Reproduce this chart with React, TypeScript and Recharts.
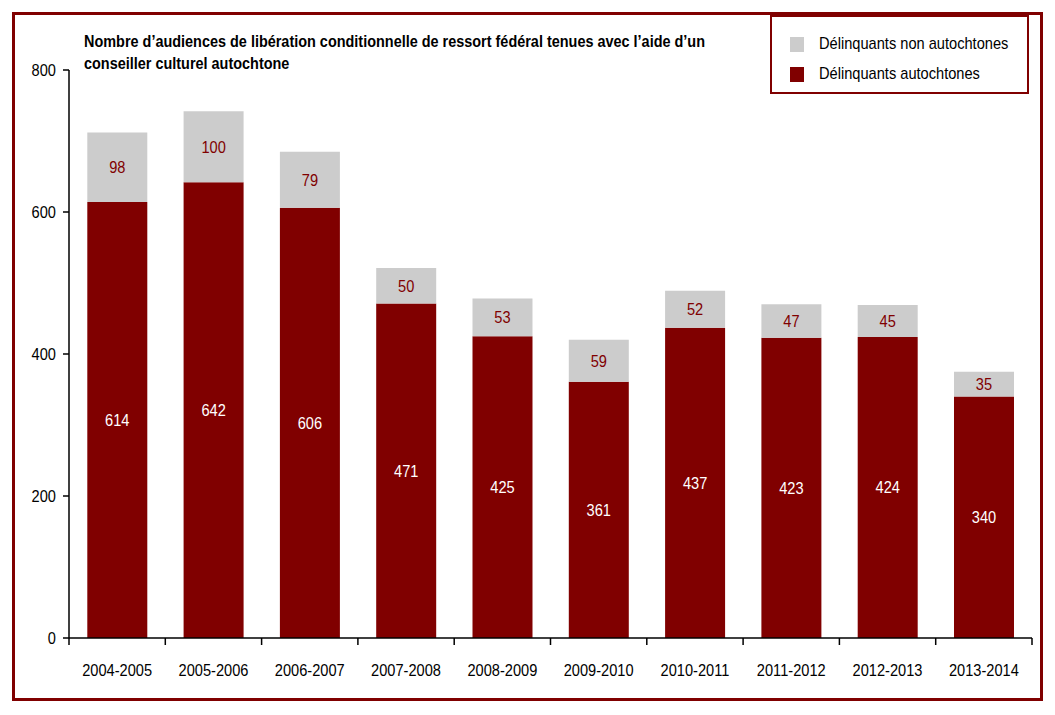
import React from "react";
import { BarChart, Bar, XAxis, YAxis, LabelList } from "recharts";

const years = [
  "2004-2005", "2005-2006", "2006-2007", "2007-2008", "2008-2009",
  "2009-2010", "2010-2011", "2011-2012", "2012-2013", "2013-2014",
];
const autochtones = [614, 642, 606, 471, 425, 361, 437, 423, 424, 340];
const nonAutochtones = [98, 100, 79, 50, 53, 59, 52, 47, 45, 35];
const yTicks = [0, 200, 400, 600, 800];

const data = years.map((year, i) => ({
  year,
  auto: autochtones[i],
  nonAuto: nonAutochtones[i],
}));

// no Arial Narrow here, so squeeze Liberation Sans horizontally
const FONT = "'Liberation Sans Narrow', 'Arial Narrow', 'Liberation Sans', Arial, sans-serif";
const SQUEEZE = 0.86;
const FS = 17;
const RED = "#800000";
const GREY = "#cccccc";

const W = 1055;
const H = 715;
const margin = { top: 70, right: 23, left: 19, bottom: 37 };
const Y_AXIS_W = 50;
const X_AXIS_H = 40;
const plotW = W - margin.left - margin.right - Y_AXIS_W;
const band = plotW / years.length;

function NarrowText({ x, y, anchor = "middle", fill = "#000", children }: any) {
  return (
    <text
      transform={`translate(${x},${y}) scale(${SQUEEZE},1)`}
      textAnchor={anchor}
      dominantBaseline="central"
      fontFamily={FONT}
      fontSize={FS}
      fill={fill}
    >
      {children}
    </text>
  );
}

function XTick(props: any) {
  const { x, y, payload, index } = props;
  const half = band / 2;
  return (
    <g>
      <line x1={x - half} y1={y} x2={x - half} y2={y + 7} stroke="#000" strokeWidth={1.5} />
      {index === years.length - 1 && (
        <line x1={x + half} y1={y} x2={x + half} y2={y + 7} stroke="#000" strokeWidth={1.5} />
      )}
      <NarrowText x={x} y={y + 32}>{payload.value}</NarrowText>
    </g>
  );
}

function YTick(props: any) {
  const { x, y, payload } = props;
  return <NarrowText x={x} y={y} anchor="end">{payload.value}</NarrowText>;
}

const centerLabel = (fill: string) => (props: any) => {
  const { x, y, width, height, value } = props;
  return (
    <NarrowText x={x + width / 2} y={y + height / 2} fill={fill}>
      {value}
    </NarrowText>
  );
};

function LegendBox() {
  const items = [
    { label: "Délinquants non autochtones", color: GREY },
    { label: "Délinquants autochtones", color: RED },
  ];
  return (
    <div
      style={{
        position: "absolute",
        left: 770,
        top: 15,
        border: `2px solid ${RED}`,
        width: 259,
        height: 79,
        boxSizing: "border-box",
        padding: "12px 0 0 18px",
        background: "#fff",
        zIndex: 2,
      }}
    >
      {items.map((it) => (
        <div key={it.label} style={{ display: "flex", alignItems: "center", height: 30, whiteSpace: "nowrap" }}>
          <span style={{ width: 14, height: 15, background: it.color, marginRight: 15, display: "inline-block", flexShrink: 0 }} />
          <span
            style={{
              fontFamily: FONT,
              fontSize: FS,
              display: "inline-block",
              transform: `scaleX(${SQUEEZE})`,
              transformOrigin: "left center",
            }}
          >
            {it.label}
          </span>
        </div>
      ))}
    </div>
  );
}

export default function App() {
  return (
    <div style={{ position: "absolute", left: 0, top: 0, width: W, height: H, background: "#fff" }}>
      <div
        style={{
          position: "absolute",
          left: 12,
          top: 12,
          width: 1031,
          height: 689,
          border: `3px solid ${RED}`,
          boxSizing: "border-box",
        }}
      />
      <div
        style={{
          position: "absolute",
          left: 84,
          top: 30,
          fontFamily: FONT,
          fontWeight: "bold",
          fontSize: 16.5,
          lineHeight: "22px",
          whiteSpace: "nowrap",
          color: "#000",
          transform: "scaleX(0.875)",
          transformOrigin: "left top",
          zIndex: 2,
        }}
      >
        Nombre d’audiences de libération conditionnelle de ressort fédéral tenues avec l’aide d’un
        <br />
        conseiller culturel autochtone
      </div>
      <LegendBox />
      <BarChart
        width={W}
        height={H}
        data={data}
        margin={margin}
        barCategoryGap="19%"
        style={{ position: "absolute", left: 0, top: 0 }}
      >
        <XAxis
          dataKey="year"
          height={X_AXIS_H}
          stroke="#000"
          strokeWidth={1.5}
          tickLine={false}
          tickSize={0}
          tickMargin={0}
          tick={<XTick />}
          interval={0}
        />
        <YAxis
          width={Y_AXIS_W}
          domain={[0, 800]}
          ticks={yTicks}
          stroke="#000"
          strokeWidth={1.5}
          tickSize={6}
          tickMargin={7}
          tick={<YTick />}
        />
        <Bar dataKey="auto" name="Délinquants autochtones" stackId="a" fill={RED} isAnimationActive={false}>
          <LabelList dataKey="auto" content={centerLabel("#fff")} />
        </Bar>
        <Bar dataKey="nonAuto" name="Délinquants non autochtones" stackId="a" fill={GREY} isAnimationActive={false}>
          <LabelList dataKey="nonAuto" content={centerLabel(RED)} />
        </Bar>
      </BarChart>
    </div>
  );
}
